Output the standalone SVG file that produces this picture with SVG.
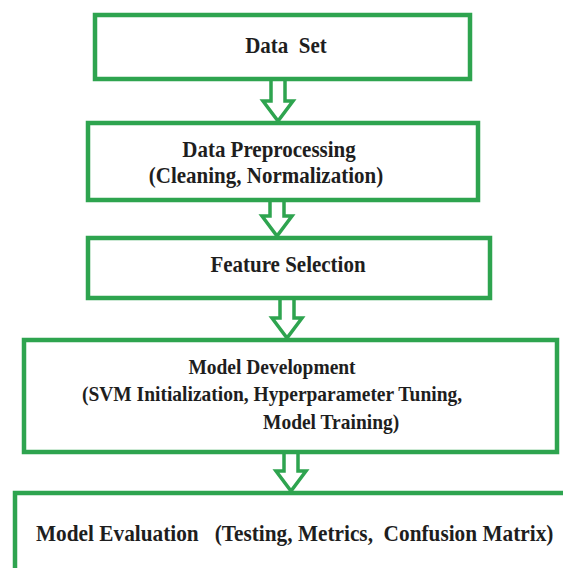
<svg xmlns="http://www.w3.org/2000/svg" width="563" height="568" viewBox="0 0 563 568">
<style>
.box{fill:#fff;stroke:#2ea44f;stroke-width:4.5}
.arr{fill:#fff;stroke:#2ea44f;stroke-width:3.5;stroke-linejoin:miter}
text{font-family:"Liberation Serif","Times New Roman",serif;font-weight:bold;fill:#1e1e1e;white-space:pre}
.c{text-anchor:middle}
.s21{font-size:21px}
.s19{font-size:19.5px}
</style>
<rect width="563" height="568" fill="#fff"/>
<g id="connectors">
<path class="arr" d="M271,79 V101 H263 L278,121 L293,101 H285 V79"/>
<path class="arr" d="M270,200 V216 H262 L277,236 L292,216 H284 V200"/>
<path class="arr" d="M280,298 V318 H272 L287,338 L302,318 H294 V298"/>
<path class="arr" d="M284,452 V471 H276 L291,491 L306,471 H298 V452"/>
</g>
<g id="data-set">
<rect class="box" x="95" y="15" width="375" height="64"/>
<text class="c s21" x="286" y="0" transform="translate(0,53) scale(1,1.12)">Data  Set</text>
</g>
<g id="data-preprocessing">
<rect class="box" x="88" y="123" width="390" height="77"/>
<text class="c s21" x="269" y="0" transform="translate(0,157) scale(1,1.12)">Data Preprocessing</text>
<text class="c s21" x="266" y="0" transform="translate(0,183) scale(1,1.12)">(Cleaning, Normalization)</text>
</g>
<g id="feature-selection">
<rect class="box" x="88" y="238" width="402" height="60"/>
<text class="c s21" x="288" y="0" transform="translate(0,272) scale(1,1.12)">Feature Selection</text>
</g>
<g id="model-development">
<rect class="box" x="24" y="340" width="533" height="112"/>
<text class="c s19" x="272" y="0" transform="translate(0,374) scale(1,1.12)">Model Development</text>
<text class="c s19" x="272" y="0" transform="translate(0,401) scale(1,1.12)">(SVM Initialization, Hyperparameter Tuning,</text>
<text class="s19" x="263" y="0" transform="translate(0,429) scale(1,1.12)">Model Training)</text>
</g>
<g id="model-evaluation">
<rect class="box" x="15" y="493" width="565" height="95"/>
<text class="s21" x="36" y="0" transform="translate(0,541) scale(1,1.12)" style="font-size:21.3px">Model Evaluation   (Testing, Metrics,  Confusion Matrix)</text>
</g>
</svg>
